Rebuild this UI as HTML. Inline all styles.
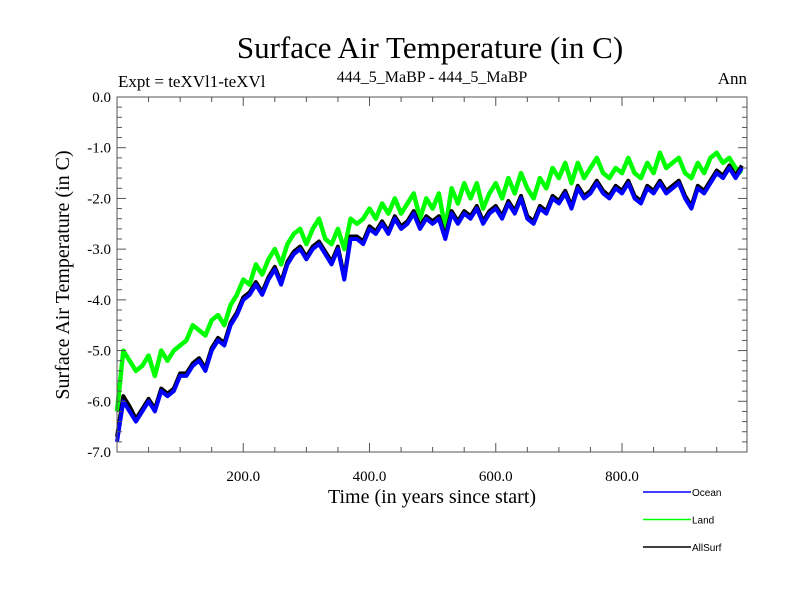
<!DOCTYPE html>
<html><head><meta charset="utf-8"><style>
body{margin:0;background:#fff;}
svg{display:block;font-family:"Liberation Serif",serif;}
</style></head><body>
<svg id="chart" width="800" height="600" viewBox="0 0 800 600">
<text x="430" y="58" text-anchor="middle" font-size="31">Surface Air Temperature (in C)</text>
<text x="118" y="87" font-size="17">Expt = teXVl1-teXVl</text>
<text x="432" y="82" text-anchor="middle" font-size="16">444_5_MaBP - 444_5_MaBP</text>
<text x="747" y="84" text-anchor="end" font-size="17">Ann</text>
<text transform="translate(69,275) rotate(-90)" text-anchor="middle" font-size="20">Surface Air Temperature (in C)</text>
<text x="432" y="503" text-anchor="middle" font-size="20">Time (in years since start)</text>
<g id="series"></g>
<g id="axes"></g>
<g id="legend"></g>
</svg>
<script>
const years = [];
for (let i = 0; i < 100; i++) years.push(i * 10);
const oceanValues = [-6.8,-6.0,-6.2,-6.4,-6.2,-6.0,-6.2,-5.8,-5.9,-5.8,-5.5,-5.5,-5.3,-5.2,-5.4,-5.0,-4.8,-4.9,-4.5,-4.3,-4.0,-3.9,-3.7,-3.9,-3.6,-3.4,-3.7,-3.3,-3.1,-3.0,-3.2,-3.0,-2.9,-3.1,-3.3,-3.0,-3.6,-2.8,-2.8,-2.9,-2.6,-2.7,-2.5,-2.7,-2.4,-2.6,-2.5,-2.3,-2.6,-2.4,-2.5,-2.4,-2.8,-2.3,-2.5,-2.3,-2.4,-2.2,-2.5,-2.3,-2.2,-2.4,-2.1,-2.3,-2.0,-2.4,-2.5,-2.2,-2.3,-2.0,-2.1,-1.9,-2.2,-1.8,-2.0,-1.9,-1.7,-1.9,-2.0,-1.8,-1.9,-1.7,-2.0,-2.1,-1.8,-1.9,-1.7,-1.9,-1.8,-1.7,-2.0,-2.2,-1.8,-1.9,-1.7,-1.5,-1.6,-1.4,-1.6,-1.4];
const landValues = [-6.2,-5.0,-5.2,-5.4,-5.3,-5.1,-5.5,-5.0,-5.2,-5.0,-4.9,-4.8,-4.5,-4.6,-4.7,-4.4,-4.3,-4.5,-4.1,-3.9,-3.6,-3.7,-3.3,-3.5,-3.2,-3.0,-3.3,-2.9,-2.7,-2.6,-2.9,-2.6,-2.4,-2.8,-2.9,-2.6,-3.0,-2.4,-2.5,-2.4,-2.2,-2.4,-2.1,-2.3,-2.0,-2.3,-2.1,-1.9,-2.4,-2.0,-2.2,-1.9,-2.6,-1.8,-2.1,-1.7,-2.0,-1.7,-2.2,-1.9,-1.7,-2.0,-1.6,-1.9,-1.5,-1.8,-2.0,-1.6,-1.8,-1.4,-1.6,-1.3,-1.7,-1.3,-1.6,-1.4,-1.2,-1.5,-1.6,-1.4,-1.5,-1.2,-1.5,-1.6,-1.3,-1.5,-1.1,-1.4,-1.3,-1.2,-1.5,-1.6,-1.3,-1.5,-1.2,-1.1,-1.3,-1.2,-1.4,-1.5];
const allSurfValues = [-6.7,-5.9,-6.1,-6.35,-6.15,-5.95,-6.15,-5.75,-5.85,-5.75,-5.45,-5.45,-5.25,-5.15,-5.35,-4.95,-4.75,-4.85,-4.45,-4.25,-3.95,-3.85,-3.65,-3.85,-3.55,-3.35,-3.65,-3.25,-3.05,-2.95,-3.15,-2.95,-2.85,-3.05,-3.25,-2.95,-3.55,-2.75,-2.75,-2.85,-2.55,-2.65,-2.45,-2.65,-2.35,-2.55,-2.45,-2.25,-2.55,-2.35,-2.45,-2.35,-2.75,-2.25,-2.45,-2.25,-2.35,-2.15,-2.45,-2.25,-2.15,-2.35,-2.05,-2.25,-1.95,-2.35,-2.45,-2.15,-2.25,-1.95,-2.05,-1.85,-2.15,-1.75,-1.95,-1.85,-1.65,-1.85,-1.95,-1.75,-1.85,-1.65,-1.95,-2.05,-1.75,-1.85,-1.65,-1.85,-1.75,-1.65,-1.95,-2.15,-1.75,-1.85,-1.65,-1.45,-1.55,-1.35,-1.55,-1.35];
const xTickValues = [200, 400, 600, 800];
const xTickLabels = ["200.0", "400.0", "600.0", "800.0"];
const yTickValues = [0, -1, -2, -3, -4, -5, -6, -7];
const yTickLabels = ["0.0", "-1.0", "-2.0", "-3.0", "-4.0", "-5.0", "-6.0", "-7.0"];
const legendLabels = ["Ocean", "Land", "AllSurf"];
const legendColors = ["#0000ff", "#00ff00", "#000000"];

const L = 117, R = 747, T = 97, B = 452, XMAX = 998, YMIN = -7, YMAX = 0;
const xs = v => L + (v / XMAX) * (R - L);
const ys = v => T + (YMAX - v) / (YMAX - YMIN) * (B - T);
const NS = "http://www.w3.org/2000/svg";
function mk(tag, attrs, parent) {
  const e = document.createElementNS(NS, tag);
  for (const k in attrs) e.setAttribute(k, attrs[k]);
  parent.appendChild(e);
  return e;
}
const series = document.getElementById('series');
function drawLine(vals, color, name, w) {
  const d = vals.map((v, i) => (i ? 'L' : 'M') + xs(years[i]).toFixed(1) + ',' + ys(v).toFixed(1)).join('');
  const p = mk('path', {d: d, fill: 'none', stroke: color, 'stroke-width': w, 'stroke-linejoin': 'round'}, series);
  
  
}
drawLine(landValues, '#00ff00', 'land-line', 4.5);
drawLine(allSurfValues, '#000000', 'allsurf-line', 4);
drawLine(oceanValues, '#0000ff', 'ocean-line', 4);

const axes = document.getElementById('axes');
const frame = mk('rect', {x: L, y: T, width: R - L, height: B - T, fill: 'none', stroke: '#555', 'stroke-width': 1}, axes);


for (let v = 50; v < XMAX; v += 50) {
  const x = xs(v), len = (v % 200 === 0) ? 9 : 5;
  mk('line', {x1: x, x2: x, y1: B, y2: B - len, stroke: '#555'}, axes);
  mk('line', {x1: x, x2: x, y1: T, y2: T + len, stroke: '#555'}, axes);
}
for (let k = 1; k < 35; k++) {
  const v = -k * 0.2, y = ys(v), len = (k % 5 === 0) ? 9 : 5;
  mk('line', {x1: L, x2: L + len, y1: y, y2: y, stroke: '#555'}, axes);
  mk('line', {x1: R, x2: R - len, y1: y, y2: y, stroke: '#555'}, axes);
}
xTickValues.forEach((v, i) => {
  const t = mk('text', {x: xs(v), y: 481, 'text-anchor': 'middle', 'font-size': 15}, axes);
  t.textContent = xTickLabels[i];
  
  
});
yTickValues.forEach((v, i) => {
  const t = mk('text', {x: 111, y: ys(v) + 5, 'text-anchor': 'end', 'font-size': 15}, axes);
  t.textContent = yTickLabels[i];
  
  
});
const legend = document.getElementById('legend');
legendLabels.forEach((lab, i) => {
  const y = 492 + i * 27.5;
  const g = mk('g', {}, legend);
  
  
  mk('line', {x1: 643, x2: 691, y1: y, y2: y, stroke: legendColors[i], 'stroke-width': 1.5}, g);
  const t = mk('text', {x: 692, y: y + 4, 'font-size': 10, 'font-family': '"Liberation Sans", sans-serif'}, g);
  t.textContent = lab;
});
</script>
</body></html>
